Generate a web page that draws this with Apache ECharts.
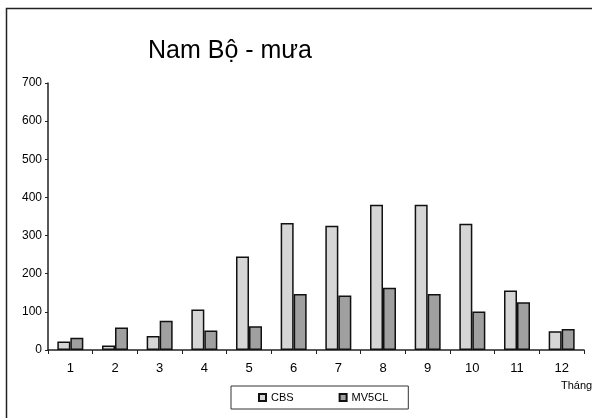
<!DOCTYPE html>
<html>
<head>
<meta charset="utf-8">
<script src="https://cdn.jsdelivr.net/npm/echarts@6/dist/echarts.min.js"></script>
<style>
  html, body { margin: 0; padding: 0; background: #fff; }
  #chart { width: 592px; height: 418px; }
</style>
</head>
<body>
<div id="chart"></div>
<script>
// tháng 1..12
const months = ["1", "2", "3", "4", "5", "6", "7", "8", "9", "10", "11", "12"];
const cbs = [22, 12, 37, 106, 245, 333, 326, 381, 381, 331, 156, 49];
const mv5cl = [32, 59, 77, 51, 62, 147, 143, 163, 147, 101, 125, 55];
const yTicks = [0, 100, 200, 300, 400, 500, 600, 700];

const narrow = "Liberation Sans Narrow, Liberation Sans, Arial";

let myChart = echarts.init(document.getElementById('chart'));
myChart.setOption({
    animation: false,
    title: {
        text: "Nam Bộ - mưa",
        left: 143,
        top: 34,
        textStyle: {
            fontFamily: "Liberation Sans, Arial",
            fontWeight: "normal",
            fontSize: 25,
            color: "#000"
        }
    },
    graphic: [
        {
            type: "rect",
            shape: {x: 6.5, y: 8.5, width: 600, height: 430},
            style: {fill: "none", stroke: "#222", lineWidth: 1.5},
            silent: true
        },
        {
            type: "text",
            left: 561,
            top: 380,
            style: {text: "Tháng", fontFamily: narrow, fontSize: 11, fill: "#000"}
        }
    ],
    legend: {
        data: ["CBS", "MV5CL"],
        left: 231,
        top: 386,
        padding: [6, 20, 6, 27],
        itemGap: 45,
        itemWidth: 7,
        itemHeight: 7,
        borderColor: "#333",
        borderWidth: 1,
        icon: "rect",
        textStyle: {fontFamily: narrow, fontSize: 11, color: "#000"}
    },
    grid: {
        left: 48,
        right: 8,
        top: 83,
        bottom: 68,
        containLabel: false
    },
    xAxis: {
        type: "category",
        data: months,
        axisLine: {lineStyle: {color: "#222", width: 1.5}},
        axisTick: {show: true, length: 4, lineStyle: {color: "#222"}},
        axisLabel: {
            margin: 12,
            fontFamily: narrow,
            fontSize: 13,
            color: "#000"
        }
    },
    yAxis: {
        type: "value",
        min: yTicks[0],
        max: yTicks[yTicks.length - 1],
        interval: 100,
        splitLine: {show: false},
        axisLine: {show: true, lineStyle: {color: "#222", width: 1.5}},
        axisTick: {show: true, length: 3, lineStyle: {color: "#222"}},
        axisLabel: {
            margin: 6,
            fontFamily: narrow,
            fontSize: 12,
            color: "#000"
        }
    },
    series: [
        {
            name: "CBS",
            type: "bar",
            data: cbs,
            barWidth: 13,
            barGap: "0%",
            itemStyle: {color: "#d6d6d6", borderColor: "#111", borderWidth: 1.5}
        },
        {
            name: "MV5CL",
            type: "bar",
            data: mv5cl,
            barWidth: 13,
            barGap: "0%",
            itemStyle: {color: "#a0a0a0", borderColor: "#111", borderWidth: 1.5}
        }
    ]
});
</script>
</body>
</html>
